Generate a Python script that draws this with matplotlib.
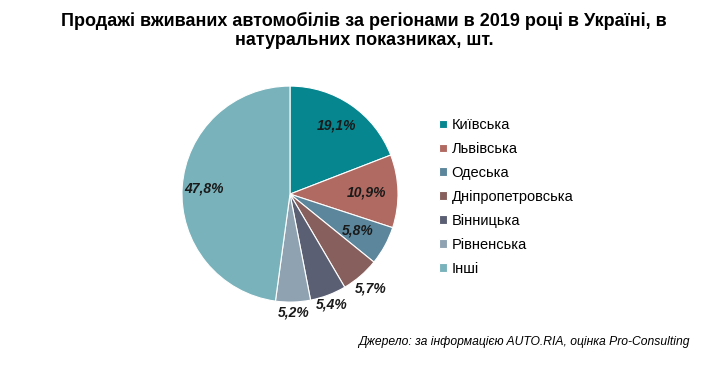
import numpy as np
import matplotlib.pyplot as plt

plt.rcParams['font.family'] = ['Liberation Sans', 'DejaVu Sans']

regions = ['Київська', 'Львівська', 'Одеська', 'Дніпропетровська',
           'Вінницька', 'Рівненська', 'Інші']
shares = [19.1, 10.9, 5.8, 5.7, 5.4, 5.2, 47.8]
colors = ['#06868F', '#B06A62', '#5C869B', '#875F5C', '#5B5F73', '#8EA2B1', '#79B2BB']
# відстань підпису від центру (у радіусах)
label_r = [0.77, 0.71, 0.71, 1.15, 1.09, 1.10, 0.80]

fig = plt.figure(figsize=(7.17, 3.66), dpi=100)
ax = fig.add_axes([0.2538, 0.1746, 0.3013, 0.5902])

wedges, _ = ax.pie(shares, colors=colors, startangle=90, counterclock=False,
                   wedgeprops=dict(edgecolor='white', linewidth=0.8))
ax.set_xlim(-1, 1)
ax.set_ylim(-1, 1)
ax.set_aspect('equal')

for w, val, r in zip(wedges, shares, label_r):
    ang = np.deg2rad((w.theta1 + w.theta2) / 2)
    ax.text(r * np.cos(ang), r * np.sin(ang), f'{val:.1f}%'.replace('.', ','),
            ha='center', va='center', fontsize=10, fontweight='bold',
            fontstyle='italic', color='#1a1a1a')

leg = fig.legend(wedges, regions, loc='upper left', bbox_to_anchor=(0.594, 0.713),
                 frameon=False, fontsize=10.5, handlelength=0.55, handleheight=0.55,
                 handletextpad=0.3, labelspacing=0.68)

fig.text(0.508, 0.968, 'Продажі вживаних автомобілів за регіонами в 2019 році в Україні, в\n'
         'натуральних показниках, шт.', ha='center', va='top', fontsize=13,
         fontweight='bold', linespacing=1.2)

fig.text(0.962, 0.065, 'Джерело: за інформацією AUTO.RIA, оцінка Pro-Consulting',
         ha='right', va='center', fontsize=8.7, fontstyle='italic')

plt.savefig('out.png', dpi=100)
